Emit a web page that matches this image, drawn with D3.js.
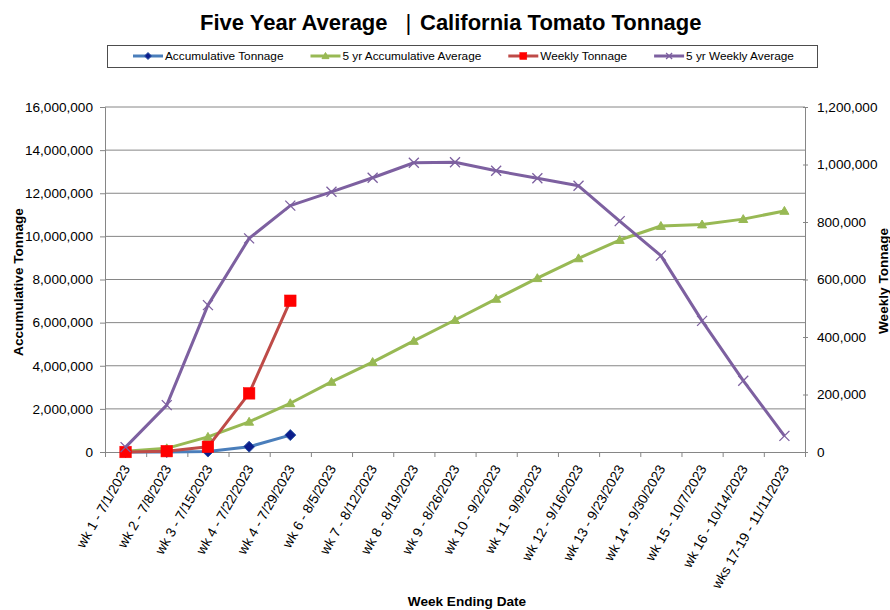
<!DOCTYPE html>
<html><head><meta charset="utf-8">
<script src="https://cdn.jsdelivr.net/npm/d3@7"></script>
<style>
body{margin:0;background:#fff;}
text{font-family:"Liberation Sans",Arial,sans-serif;fill:#000;}
</style></head>
<body>
<svg id="chart" width="890" height="610"></svg>
<script>
const categories = ["wk 1 - 7/1/2023","wk 2 - 7/8/2023","wk 3 - 7/15/2023","wk 4 - 7/22/2023","wk 4 - 7/29/2023","wk 6 - 8/5/2023","wk 7 - 8/12/2023","wk 8 - 8/19/2023","wk 9 - 8/26/2023","wk 10 - 9/2/2023","wk 11 - 9/9/2023","wk 12 - 9/16/2023","wk 13 - 9/23/2023","wk 14 - 9/30/2023","wk 15 - 10/7/2023","wk 16 - 10/14/2023","wks 17-19 - 11/11/2023"];
const accumTonnage = [0, 3000, 21000, 246000, 785000];
const avgAccumTonnage = [30000, 170000, 700000, 1400000, 2260000, 3250000, 4170000, 5150000, 6120000, 7100000, 8060000, 8980000, 9830000, 10480000, 10550000, 10800000, 11180000];
const weeklyTonnage = [0, 3000, 18000, 204000, 526000];
const avgWeeklyTonnage = [17000, 163000, 511000, 743000, 857000, 905000, 954000, 1006000, 1008000, 978000, 952000, 926000, 803000, 683000, 456000, 248000, 56000];
const leftTicks = [0, 2000000, 4000000, 6000000, 8000000, 10000000, 12000000, 14000000, 16000000];
const rightTicks = [0, 200000, 400000, 600000, 800000, 1000000, 1200000];
const seriesNames = ["Accumulative Tonnage","5 yr Accumulative Average","Weekly Tonnage","5 yr Weekly Average"];

const svg = d3.select("#chart");
const L = 105, R = 805, T = 107, B = 452;
const x = d3.scaleBand().domain(categories).range([L, R]);
const xi = d3.scaleLinear().domain([0, categories.length]).range([L, R]);
const yL = d3.scaleLinear().domain([0, 16000000]).range([B, T]);
const yR = d3.scaleLinear().domain([0, 1200000]).range([B, T]);
const cx = c => x(c) + x.bandwidth() / 2;
const gridCol = "#868686";
const fmt = d3.format(",");

// gridlines
svg.append("g").selectAll("line").data(leftTicks.filter(d => d > 0)).join("line")
  .attr("x1", L).attr("x2", R).attr("y1", d => yL(d)).attr("y2", d => yL(d))
  .attr("stroke", gridCol).attr("stroke-width", 1);

// left axis
const gl = svg.append("g").attr("transform", `translate(${L},0)`)
  .call(d3.axisLeft(yL).tickValues(leftTicks).tickFormat(fmt).tickSize(5).tickPadding(7));
gl.select(".domain").attr("stroke", gridCol);
gl.selectAll(".tick line").attr("stroke", gridCol);
gl.selectAll("text").style("font-size", "13.6px").style("font-family", '"Liberation Sans",Arial,sans-serif');

// right axis
const gr = svg.append("g").attr("transform", `translate(${R},0)`)
  .call(d3.axisRight(yR).tickValues(rightTicks).tickFormat(fmt).tickSize(3).tickPadding(9));
gr.select(".domain").attr("stroke", gridCol);
gr.selectAll(".tick line").attr("stroke", gridCol).attr("x1", -2);
gr.selectAll("text").style("font-size", "13.6px").style("font-family", '"Liberation Sans",Arial,sans-serif');

// bottom axis: boundary ticks
const gb = svg.append("g").attr("transform", `translate(0,${B})`)
  .call(d3.axisBottom(xi).tickValues(d3.range(categories.length + 1)).tickFormat("").tickSize(5));
gb.select(".domain").attr("stroke", gridCol);
gb.selectAll(".tick line").attr("stroke", gridCol);

// category labels
svg.append("g").selectAll("text").data(categories).join("text")
  .attr("transform", d => `translate(${cx(d) + 5},${B + 16.5}) rotate(-60)`)
  .attr("text-anchor", "end")
  .style("font-size", "13.6px")
  .text(d => d);

// axis titles
svg.append("text").attr("transform", "translate(22.5,282) rotate(-90)")
  .attr("text-anchor", "middle").style("font-size", "13.6px").style("font-weight", "bold")
  .text("Accumulative Tonnage");
svg.append("text").attr("transform", "translate(887.5,281) rotate(-90)")
  .attr("text-anchor", "middle").style("font-size", "13.6px").style("font-weight", "bold")
  .text("Weekly Tonnage");
svg.append("text").attr("x", 467).attr("y", 606)
  .attr("text-anchor", "middle").style("font-size", "13.6px").style("font-weight", "bold")
  .text("Week Ending Date");

// title
const title = svg.append("text").attr("y", 30).style("font-size", "22px").style("font-weight", "bold");
title.append("tspan").attr("x", 200).text("Five Year Average");
title.append("tspan").attr("x", 405.5).style("font-weight", "normal").style("font-size", "22.5px").text("|");
title.append("tspan").attr("x", 420).text("California Tomato Tonnage");

// series definitions
const series = [
  {name: seriesNames[0], data: accumTonnage, y: yL, line: "#4A7EBB", marker: "diamond", mfill: "#0C1D8C", mstroke: "#2E58A6"},
  {name: seriesNames[1], data: avgAccumTonnage, y: yL, line: "#98B954", marker: "triangle", mfill: "#98B954", mstroke: "#98B954"},
  {name: seriesNames[2], data: weeklyTonnage, y: yR, line: "#BE4B48", marker: "square", mfill: "#FF0000", mstroke: "#FF0000"},
  {name: seriesNames[3], data: avgWeeklyTonnage, y: yR, line: "#7D60A0", marker: "x", mfill: "none", mstroke: "#7D60A0"}
];

function drawMarker(g, type, px, py, s, fill, stroke) {
  if (type === "diamond") {
    g.append("path").attr("d", `M${px},${py - s}L${px + s},${py}L${px},${py + s}L${px - s},${py}Z`)
      .attr("fill", fill).attr("stroke", stroke).attr("stroke-width", 1);
  } else if (type === "triangle") {
    g.append("path").attr("d", `M${px},${py - s}L${px + s},${py + s * 0.75}L${px - s},${py + s * 0.75}Z`)
      .attr("fill", fill).attr("stroke", stroke).attr("stroke-width", 1);
  } else if (type === "square") {
    g.append("rect").attr("x", px - s).attr("y", py - s).attr("width", 2 * s).attr("height", 2 * s)
      .attr("fill", fill).attr("stroke", stroke).attr("stroke-width", 0.5);
  } else if (type === "x") {
    g.append("path").attr("d", `M${px - s},${py - s}L${px + s},${py + s}M${px - s},${py + s}L${px + s},${py - s}`)
      .attr("stroke", stroke).attr("stroke-width", 1.3).attr("fill", "none");
  }
}
const markerSize = {diamond: 5.5, triangle: 4.5, square: 5.8, x: 5};

series.forEach(s => {
  const pts = s.data.map((v, i) => [cx(categories[i]), s.y(v)]);
  const g = svg.append("g");
  g.append("path").attr("d", d3.line()(pts)).attr("fill", "none")
    .attr("stroke", s.line).attr("stroke-width", 3).attr("stroke-linejoin", "round");
  pts.forEach(p => drawMarker(g, s.marker, p[0], p[1], markerSize[s.marker], s.mfill, s.mstroke));
});

// legend
const lg = svg.append("g");
lg.append("rect").attr("x", 107.5).attr("y", 45.5).attr("width", 710).attr("height", 22)
  .attr("fill", "#fff").attr("stroke", "#4d4d4d").attr("stroke-width", 1);
let lx = 133;
series.forEach(s => {
  const ly = 56;
  lg.append("line").attr("x1", lx).attr("x2", lx + 30).attr("y1", ly).attr("y2", ly)
    .attr("stroke", s.line).attr("stroke-width", 3);
  drawMarker(lg, s.marker, lx + 15, ly, s.marker === "x" ? 3 : 3.5, s.mfill, s.mstroke);
  const t = lg.append("text").attr("x", lx + 32).attr("y", 60).style("font-size", "11.8px").text(s.name);
  lx = lx + 32 + t.node().getComputedTextLength() + 27;
});
</script>
</body></html>
